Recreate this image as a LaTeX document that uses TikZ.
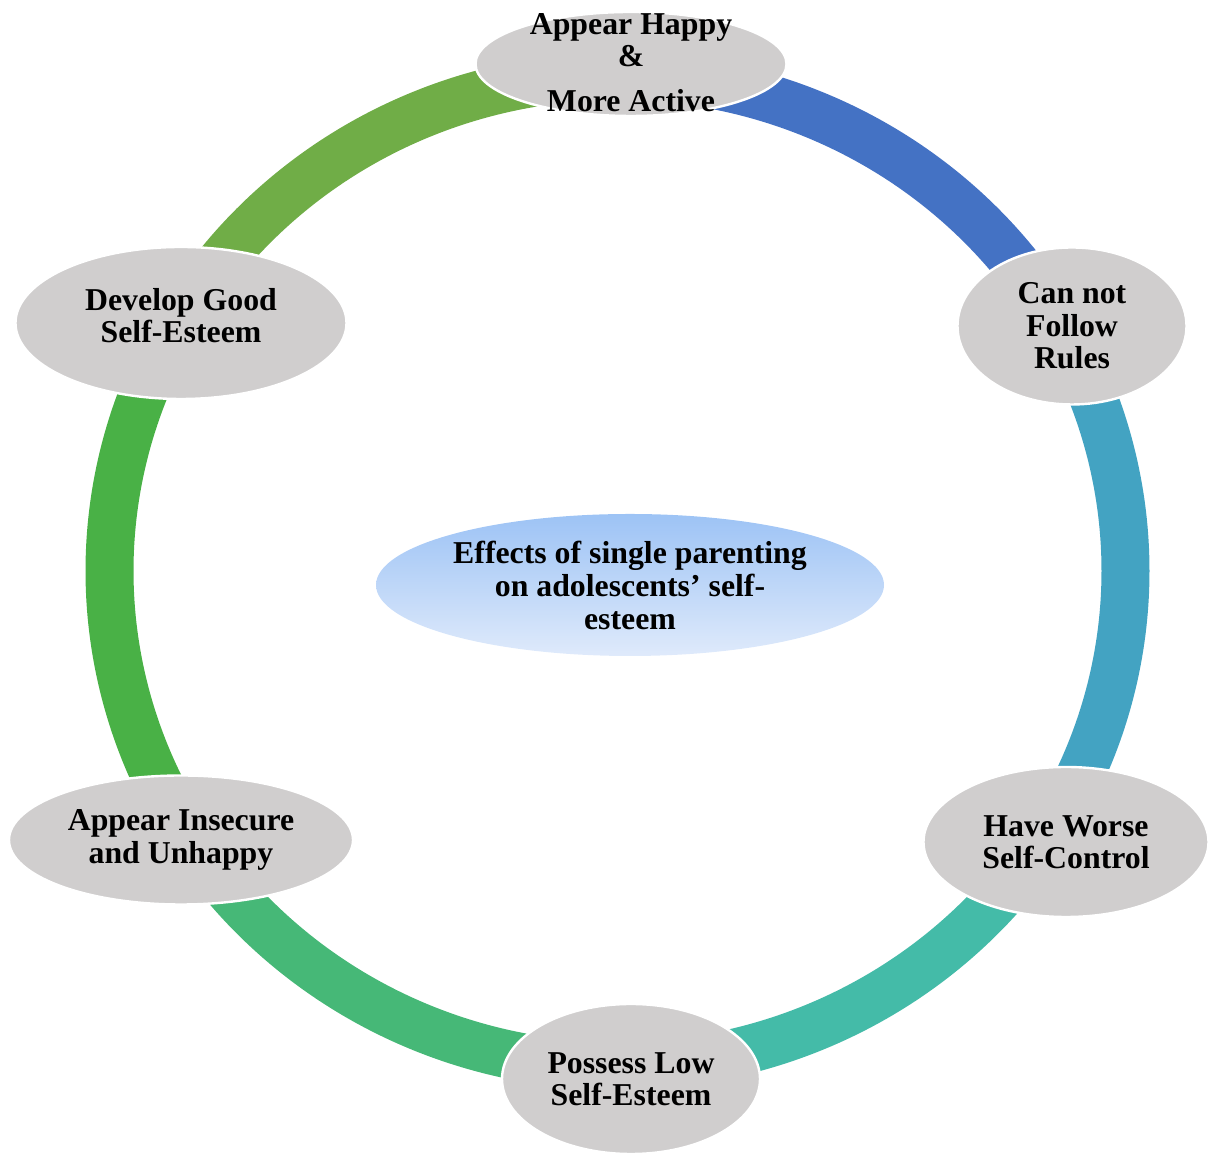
\documentclass[tikz,border=0pt]{standalone}
\usepackage{fontspec}
\setmainfont{Liberation Serif}
\usetikzlibrary{shapes.geometric}

\definecolor{bandA}{HTML}{4472C4}
\definecolor{bandB}{HTML}{43A3C2}
\definecolor{bandC}{HTML}{44BBA8}
\definecolor{bandD}{HTML}{46B877}
\definecolor{bandE}{HTML}{49B146}
\definecolor{bandF}{HTML}{70AD47}
\definecolor{effectgray}{HTML}{D0CECE}
\definecolor{hubtop}{HTML}{9DC3F5}
\definecolor{hubbottom}{HTML}{DFEAFB}

\tikzset{
	effect/.style={ellipse, fill=effectgray, draw=white, line width=1.2pt,
		inner sep=0pt, outer sep=0pt, align=center,
		font=\bfseries\fontsize{15.9}{16.2}\selectfont},
	hub/.style={ellipse, top color=hubtop, bottom color=hubbottom,
		inner sep=0pt, align=center,
		font=\bfseries\fontsize{15.9}{16.5}\selectfont},
	band/.style={line width=24pt},
	rim/.style={x radius=508, y radius=495}
}

\begin{document}
\begin{tikzpicture}[x=0.5pt, y=0.5pt]
		\useasboundingbox (0, 0) rectangle (1210, 1155);
		% ring of six bands
		\coordinate (ring) at (617.5, 584);
		\path (ring) ++(90:508 and 495) coordinate (pTop)
			(ring) ++(30:508 and 495) coordinate (pRules)
			(ring) ++(-30:508 and 495) coordinate (pControl)
			(ring) ++(-90:508 and 495) coordinate (pLow)
			(ring) ++(-150:508 and 495) coordinate (pInsecure)
			(ring) ++(150:508 and 495) coordinate (pGood);
		\draw[band, bandA] (pTop) arc[rim, start angle=90, end angle=30];
		\draw[band, bandB] (pRules) arc[rim, start angle=30, end angle=-30];
		\draw[band, bandC] (pControl) arc[rim, start angle=-30, end angle=-90];
		\draw[band, bandD] (pLow) arc[rim, start angle=-90, end angle=-150];
		\draw[band, bandE] (pInsecure) arc[rim, start angle=-150, end angle=-210];
		\draw[band, bandF] (pGood) arc[rim, start angle=150, end angle=90];
		% effects
		\node[effect, minimum width=155.5pt, minimum height=52pt, text height=48pt, text depth=0pt, inner ysep=-6pt]
			(top) at (631, 1091) {Appear Happy\\ \&\\[6.5pt] More Active};
		\node[effect, minimum width=114.5pt, minimum height=78.5pt]
			(rules) at (1072, 829) {Can not\\ Follow\\ Rules};
		\node[effect, minimum width=142.5pt, minimum height=75pt]
			(control) at (1066, 313) {Have Worse\\ Self-Control};
		\node[effect, minimum width=129pt, minimum height=75pt]
			(low) at (631, 76) {Possess Low\\ Self-Esteem};
		\node[effect, minimum width=172pt, minimum height=64.5pt]
			(insecure) at (181, 315) {Appear Insecure\\ and Unhappy};
		\node[effect, minimum width=165.5pt, minimum height=76pt, text height=20pt, text depth=0pt]
			(good) at (181, 832) {Develop Good\\ Self-Esteem};
		% centre
		\node[hub, minimum width=254pt, minimum height=71pt]
			(effects) at (630, 570) {Effects of single parenting\\ on adolescents’ self-\\ esteem};
	\end{tikzpicture}
\end{document}
